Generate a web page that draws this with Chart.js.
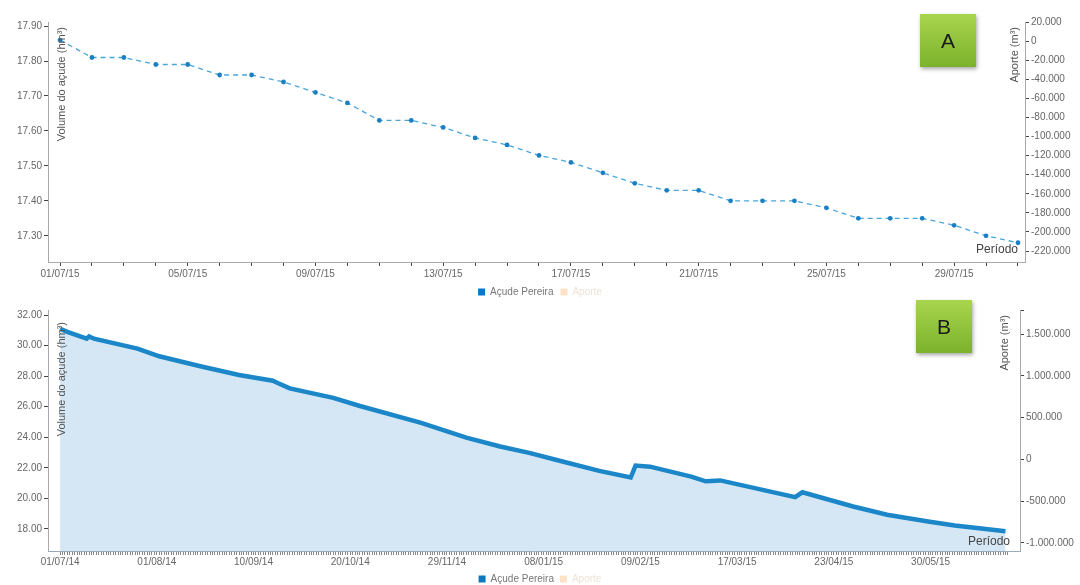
<!DOCTYPE html>
<html>
<head>
<meta charset="utf-8">
<script src="https://cdn.jsdelivr.net/npm/chart.js@4.4.0/dist/chart.umd.min.js"></script>
<style>
  body { margin: 0; width: 1080px; height: 585px; background: #fff; position: relative; overflow: hidden; font-family: "Liberation Sans", Arial, sans-serif; }
  .wrap { position: absolute; left: 0; width: 1080px; }
  #wrapA { top: 0; height: 300px; }
  #wrapB { top: 300px; height: 285px; }
  .tag { position: absolute; width: 56px; height: 53px; line-height: 53px; text-align: center; font-size: 21px; color: #1a1a1a;
         background: linear-gradient(#a9d54d, #7bb22c); box-shadow: 1px 2px 4px rgba(0,0,0,0.35); }
</style>
</head>
<body>
<div class="wrap" id="wrapA"><canvas id="chartA" width="1080" height="300"></canvas></div>
<div class="wrap" id="wrapB"><canvas id="chartB" width="1080" height="285"></canvas></div>
<div class="tag" style="left:920px;top:14px">A</div>
<div class="tag" style="left:916px;top:300px">B</div>
<script>
// --- chart A : july 2015, daily
var labelsA = ['01/07/15','02/07/15','03/07/15','04/07/15','05/07/15','06/07/15','07/07/15','08/07/15','09/07/15','10/07/15',
               '11/07/15','12/07/15','13/07/15','14/07/15','15/07/15','16/07/15','17/07/15','18/07/15','19/07/15','20/07/15',
               '21/07/15','22/07/15','23/07/15','24/07/15','25/07/15','26/07/15','27/07/15','28/07/15','29/07/15','30/07/15','31/07/15'];
var volumeA = [17.86, 17.81, 17.81, 17.79, 17.79, 17.76, 17.76, 17.74, 17.71, 17.68,
               17.63, 17.63, 17.61, 17.58, 17.56, 17.53, 17.51, 17.48, 17.45, 17.43,
               17.43, 17.40, 17.40, 17.40, 17.38, 17.35, 17.35, 17.35, 17.33, 17.30, 17.28];
var aporteA = [];
var volTicksA = [17.30, 17.40, 17.50, 17.60, 17.70, 17.80, 17.90];
var aporteTicksA = [20000, 0, -20000, -40000, -60000, -80000, -100000, -120000, -140000, -160000, -180000, -200000, -220000];

// --- chart B : jul/2014 to jul/2015, day index along the period
var tickLabelsB = ['01/07/14','01/08/14','10/09/14','20/10/14','29/11/14','08/01/15','09/02/15','17/03/15','23/04/15','30/05/15'];
var daysB = [0, 3, 11, 12, 14, 32, 41, 58, 74, 88, 90, 95, 113, 124, 149, 168, 182, 194, 207, 223, 236, 238, 244, 261, 267, 273, 304, 307, 328, 342, 359, 370, 391];
var volumeB = [31.10, 30.90, 30.45, 30.60, 30.45, 29.80, 29.30, 28.65, 28.08, 27.70, 27.55, 27.20, 26.58, 26.05, 24.96, 23.98, 23.40, 22.98, 22.45, 21.80,
               21.37, 22.15, 22.08, 21.43, 21.12, 21.18, 20.08, 20.40, 19.47, 18.93, 18.49, 18.23, 17.85];
var aporteB = [];
var volTicksB = [18, 20, 22, 24, 26, 28, 30, 32];
var aporteTicksB = [-1000000, -500000, 0, 500000, 1000000, 1500000];

var labelStepB = 40;
var lastDayB = 392;

var tickFont = { family: '"Liberation Sans", Arial, sans-serif', size: 10 };

function fmtThousands(v) {
    var s = Math.abs(v).toFixed(0).replace(/\B(?=(\d{3})+(?!\d))/g, '.');
    return (v < 0 ? '-' : '') + s;
}

// titles sit inside the plot area in the original, so draw them by hand
var axisText = {
    id: 'axisText',
    afterDraw: function(chart, args, opts) {
        var ctx = chart.ctx, a = chart.chartArea;
        ctx.save();
        ctx.fillStyle = '#555';
        ctx.font = '11px "Liberation Sans", Arial, sans-serif';
        ctx.textBaseline = 'middle';

        ctx.save();
        ctx.translate(a.left + 14, a.top + opts.leftTop);
        ctx.rotate(-Math.PI / 2);
        ctx.textAlign = 'right';
        ctx.fillText(opts.left, 0, 0);
        ctx.restore();

        ctx.save();
        ctx.translate(a.right - opts.rightIn, a.top + 5);
        ctx.rotate(-Math.PI / 2);
        ctx.textAlign = 'right';
        ctx.fillText(opts.right, 0, 0);
        ctx.restore();

        ctx.font = '12px "Liberation Sans", Arial, sans-serif';
        ctx.fillStyle = '#444';
        ctx.textAlign = 'right';
        ctx.fillText('Período', a.right - opts.periodIn, a.bottom - opts.periodUp);
        ctx.restore();
    }
};

function legendOpts(h, pad) {
    return {
        position: 'bottom',
        maxHeight: h,
        labels: {
            boxWidth: 7, boxHeight: 7, padding: pad,
            color: '#777',
            font: { family: '"Liberation Sans", Arial, sans-serif', size: 10 },
            generateLabels: function(chart) {
                var items = Chart.defaults.plugins.legend.labels.generateLabels(chart);
                items.forEach(function(it, i) {
                    it.lineWidth = 0;
                    it.lineDash = [];
                    it.fillStyle = i === 0 ? '#0a78c0' : '#fde2c8';
                    it.fontColor = i === 0 ? '#777' : '#efe2d6';
                });
                return items;
            }
        }
    };
}

function sideAxis(pos, min, max, tickList, width, fmt, showMax) {
    return {
        type: 'linear', position: pos, min: min, max: max,
        afterBuildTicks: function(s) {
            var t = tickList.map(function(v) { return { value: v }; });
            if (showMax) t.push({ value: max });
            s.ticks = t;
        },
        afterFit: function(s) { s.width = width; },
        grid: { drawOnChartArea: false, color: '#444', tickLength: 4 },
        border: { color: '#aaa' },
        ticks: {
            autoSkip: false, padding: 2, color: '#666', font: tickFont,
            callback: function(v) { return tickList.indexOf(v) < 0 ? '' : fmt(v); }
        }
    };
}

// chart A
new Chart(document.getElementById('chartA'), {
    type: 'line',
    data: {
        datasets: [{
            label: 'Açude Pereira',
            data: volumeA.map(function(v, i) { return { x: i, y: v }; }),
            yAxisID: 'yVol',
            borderColor: '#48a6dd', borderWidth: 1.3, borderDash: [5, 4],
            pointRadius: 2.4, pointBorderWidth: 0, pointBackgroundColor: '#1a7fc3',
            backgroundColor: '#1a7fc3', fill: false, tension: 0
        }, {
            label: 'Aporte',
            data: aporteA.map(function(v, i) { return { x: i, y: v }; }),
            yAxisID: 'yAporte',
            borderColor: '#fde2c8', backgroundColor: '#fde2c8'
        }]
    },
    options: {
        responsive: false, animation: false, devicePixelRatio: 1,
        layout: { padding: { top: 22, left: 0, right: 0, bottom: 0 } },
        plugins: {
            legend: legendOpts(20, 7),
            tooltip: { enabled: false },
            axisText: { left: 'Volume do açude (hm³)', right: 'Aporte (m³)', leftTop: 5, rightIn: 10, periodIn: 7, periodUp: 12 }
        },
        scales: {
            x: {
                type: 'linear', min: -0.376, max: 30.22,
                afterBuildTicks: function(s) { s.ticks = labelsA.map(function(l, i) { return { value: i }; }); },
                afterFit: function(s) { s.height = 18; },
                grid: { drawOnChartArea: false, color: '#444', tickLength: 4 },
                border: { color: '#aaa' },
                ticks: {
                    autoSkip: false, maxRotation: 0, padding: 2, color: '#666', font: tickFont,
                    callback: function(v) { return v % 4 === 0 ? labelsA[v] : ''; }
                }
            },
            yVol: sideAxis('left', 17.225, 17.9116, volTicksA, 48, function(v) { return v.toFixed(2); }, false),
            yAporte: sideAxis('right', -231500, 20000, aporteTicksA, 55, fmtThousands, false)
        }
    },
    plugins: [axisText]
});

// chart B
new Chart(document.getElementById('chartB'), {
    type: 'line',
    data: {
        datasets: [{
            label: 'Açude Pereira',
            data: daysB.map(function(d, i) { return { x: d, y: volumeB[i] }; }),
            yAxisID: 'yVol',
            borderColor: '#1b86c8', borderWidth: 4.5,
            pointRadius: 0,
            backgroundColor: '#d5e7f5', fill: 'start', tension: 0
        }, {
            label: 'Aporte',
            data: aporteB.map(function(v, i) { return { x: i, y: v }; }),
            yAxisID: 'yAporte',
            borderColor: '#fde2c8', backgroundColor: '#fde2c8'
        }]
    },
    options: {
        responsive: false, animation: false, devicePixelRatio: 1,
        layout: { padding: { top: 10, left: 0, right: 0, bottom: 0 } },
        plugins: {
            legend: legendOpts(17, 6),
            tooltip: { enabled: false },
            axisText: { left: 'Volume do açude (hm³)', right: 'Aporte (m³)', leftTop: 12, rightIn: 15, periodIn: 10, periodUp: 9 }
        },
        scales: {
            x: {
                type: 'linear', min: -5, max: 397,
                afterBuildTicks: function(s) {
                    var t = [];
                    for (var d = 0; d <= lastDayB; d++) t.push({ value: d });
                    s.ticks = t;
                },
                afterFit: function(s) { s.height = 17; },
                grid: { drawOnChartArea: false, color: '#888', tickLength: 4 },
                border: { color: '#9ab' },
                ticks: {
                    autoSkip: false, maxRotation: 0, padding: 1, color: '#666', font: tickFont,
                    callback: function(v) { return v % labelStepB === 0 && tickLabelsB[v / labelStepB] ? tickLabelsB[v / labelStepB] : ''; }
                }
            },
            yVol: sideAxis('left', 16.56, 32.33, volTicksB, 48, function(v) { return v.toFixed(2); }, false),
            yAporte: sideAxis('right', -1096000, 1788000, aporteTicksB, 60, fmtThousands, true)
        }
    },
    plugins: [axisText]
});
</script>
</body>
</html>
